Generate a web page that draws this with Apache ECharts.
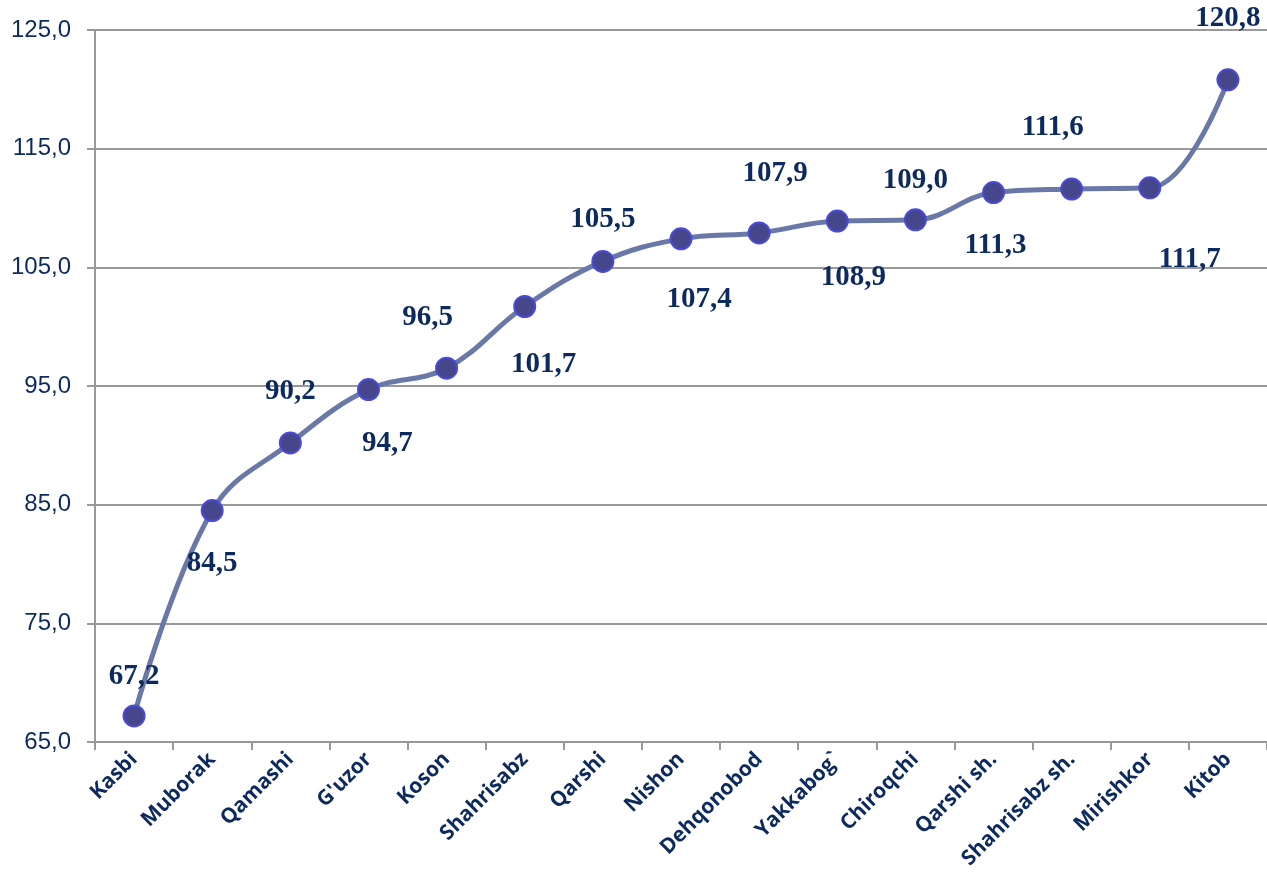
<!DOCTYPE html>
<html><head><meta charset="utf-8">
<script src="https://cdn.jsdelivr.net/npm/echarts@6/dist/echarts.min.js"></script>
<style>html,body{margin:0;padding:0;background:#fff}#c{width:1267px;height:883px}</style>
</head><body><div id="c"></div>
<script>
const categories = ["Kasbi","Muborak","Qamashi","G'uzor","Koson","Shahrisabz","Qarshi","Nishon","Dehqonobod","Yakkabog`","Chiroqchi","Qarshi sh.","Shahrisabz sh.","Mirishkor","Kitob"];
const values = [67.2,84.5,90.2,94.7,96.5,101.7,105.5,107.4,107.9,108.9,109.0,111.3,111.6,111.7,120.8];
const yTicks = {min:65, max:125, interval:10};
// label placement (presentation only)
const labelOffsets = [[0,-39],[0,53],[0,-51],[19,54],[-19,-51],[19,58],[0,-42],[18,61],[16,-59],[16,56],[0,-39],[2,53],[-19,-61],[40,72],[0,-61]];

const fmt = v => v.toFixed(1).replace('.', ',');
const chart = echarts.init(document.getElementById('c'));
chart.setOption({
  animation:false,
  grid:{left:95,right:0,top:30,bottom:141},
  xAxis:{type:'category',data:categories,boundaryGap:true,
    axisLine:{lineStyle:{color:'#999',width:2}},
    axisTick:{show:true,length:8,lineStyle:{color:'#999',width:2}},
    axisLabel:{rotate:45,margin:14,color:'#0d2a5e',fontFamily:'Open Sans',fontWeight:'bold',fontSize:21,interval:0}},
  yAxis:{type:'value',min:yTicks.min,max:yTicks.max,interval:yTicks.interval,
    axisLine:{show:true,lineStyle:{color:'#999',width:2}},
    axisTick:{show:true,length:8,lineStyle:{color:'#999',width:2}},
    splitLine:{lineStyle:{color:'#999',width:2}},
    axisLabel:{margin:24,color:'#0d2a5e',fontFamily:'Liberation Sans',fontSize:24,formatter:v=>fmt(v)}},
  series:[{type:'line',smooth:0.4,
    data:values.map((v,i)=>({value:v,label:{offset:labelOffsets[i]}})),
    lineStyle:{color:'#6a78a8',width:5},
    symbol:'circle',symbolSize:21,
    itemStyle:{color:'#46468a',borderColor:'#4a4ad6',borderWidth:2},
    label:{show:true,position:'inside',color:'#0d2a5e',fontFamily:'Liberation Serif',fontWeight:'bold',fontSize:29,formatter:p=>fmt(p.value)}
  }]
});
</script></body></html>
